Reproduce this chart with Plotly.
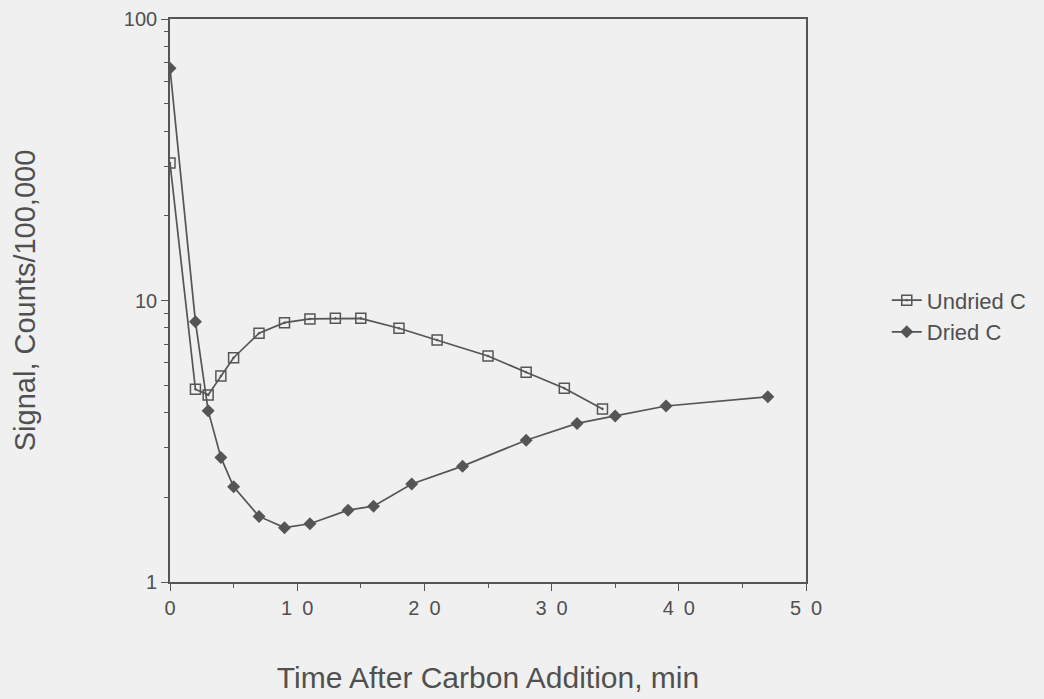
import plotly.graph_objects as go

undried_x = [0, 2, 3, 4, 5, 7, 9, 11, 13, 15, 18, 21, 25, 28, 31, 34]
undried_y = [30.8, 4.84, 4.62, 5.39, 6.26, 7.65, 8.34, 8.6, 8.64, 8.64, 7.97, 7.24, 6.35, 5.56, 4.88, 4.12]

dried_x = [0, 2, 3, 4, 5, 7, 9, 11, 14, 16, 19, 23, 28, 32, 35, 39, 47]
dried_y = [66.8, 8.4, 4.06, 2.77, 2.18, 1.71, 1.56, 1.61, 1.80, 1.86, 2.23, 2.58, 3.19, 3.66, 3.89, 4.22, 4.55]

x_tickvals = [0, 10, 20, 30, 40, 50]
x_ticktext = ["0", "1\u20020", "2\u20020", "3\u20020", "4\u20020", "5\u20020"]
y_tickvals = [1, 10, 100]
y_ticktext = ["1", "10", "100"]

LINE = "#555555"
TEXT = "#505050"
BG = "#f0f0f0"
FONT = "Liberation Sans, Arial, sans-serif"

fig = go.Figure()
fig.add_trace(go.Scatter(
    x=undried_x, y=undried_y, name="Undried C", mode="lines+markers",
    line=dict(color=LINE, width=1.7),
    marker=dict(symbol="square-open-dot", size=10, color=LINE, line=dict(width=1.5, color=LINE)),
    legendgroup="a",
))
fig.add_trace(go.Scatter(
    x=dried_x, y=dried_y, name="Dried C", mode="lines+markers",
    line=dict(color=LINE, width=1.7),
    marker=dict(symbol="diamond", size=10, color=LINE),
    legendgroup="b",
))

fig.update_layout(
    width=1044, height=699,
    margin=dict(l=170, r=232, t=19, b=117),
    paper_bgcolor=BG, plot_bgcolor=BG,
    font=dict(family=FONT, color=TEXT, size=18),
    showlegend=True,
    legend=dict(x=1.127, xanchor="left", y=0.5375, yanchor="top",
                bgcolor="rgba(0,0,0,0)", font=dict(size=22, color=TEXT),
                tracegroupgap=0, traceorder="grouped", itemwidth=30),
    xaxis=dict(
        range=[0, 50], tickvals=x_tickvals, ticktext=x_ticktext, automargin=False,
        showgrid=False, zeroline=False, showline=True, linecolor=LINE, linewidth=1.6,
        mirror=True, ticks="outside", ticklen=7, tickwidth=1.3, tickcolor=LINE,
        minor=dict(tickvals=[5, 15, 25, 35, 45], ticks="outside", ticklen=4, tickcolor=LINE, tickwidth=1.2),
        tickfont=dict(size=20, color=TEXT),
        title=dict(text="Time After Carbon Addition, min", font=dict(size=30, color=TEXT), standoff=49),
    ),
    yaxis=dict(
        type="log", range=[0, 2], tickvals=y_tickvals, ticktext=y_ticktext, automargin=False,
        showgrid=False, zeroline=False, showline=True, linecolor=LINE, linewidth=1.6,
        mirror=True, ticks="outside", ticklen=7, tickwidth=1.3, tickcolor=LINE,
        minor=dict(ticks="outside", ticklen=4, tickcolor=LINE, tickwidth=1.2, dtick="D1"),
        tickfont=dict(size=20, color=TEXT),
        title=dict(text="Signal, Counts/100,000", font=dict(size=29, color=TEXT), standoff=80),
    ),
)

fig.write_html("out.html", config={"displayModeBar": False},
               post_script="document.body.style.margin='0';document.body.style.overflow='hidden';")
